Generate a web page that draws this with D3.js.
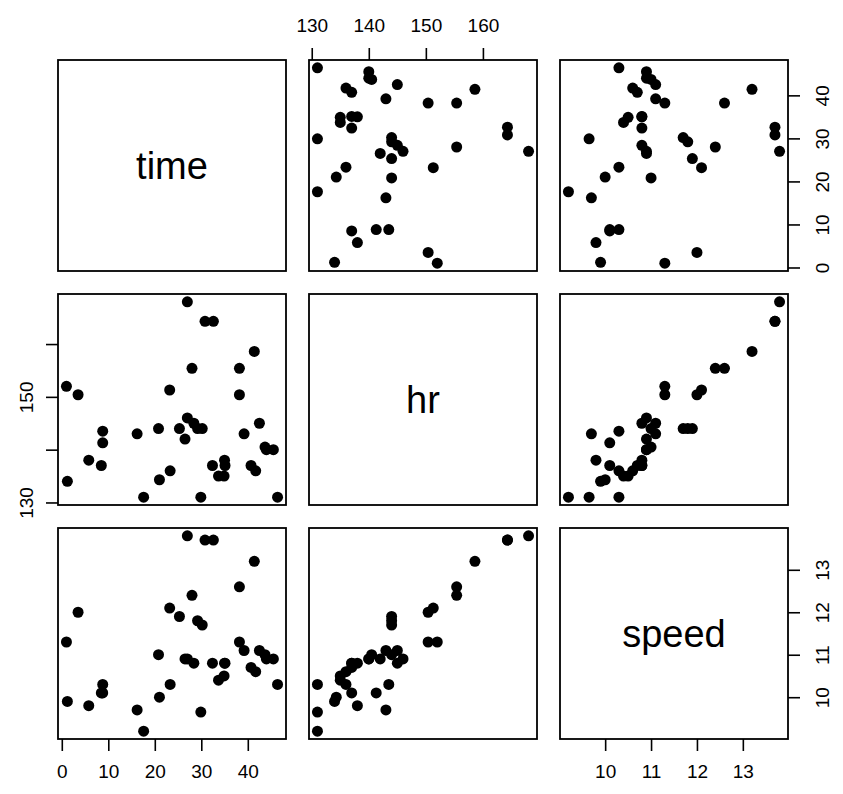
<!DOCTYPE html>
<html>
<head>
<meta charset="utf-8">
<script src="https://cdn.jsdelivr.net/npm/d3@7"></script>
<style>
  body { margin: 0; background: #fff; }
  text { font-family: "Liberation Sans", Arial, sans-serif; fill: #000; }
</style>
</head>
<body>
<svg id="svg-chart"></svg>
<script>
// variables of the scatterplot matrix
const varNames = ["time", "hr", "speed"];

const time = [46.4, 29.9, 17.6, 1.2, 21.0, 34.9, 33.7, 41.7, 23.3, 40.7,
  35.1, 32.4, 35.0, 8.5, 5.8, 44.0, 45.5, 43.7, 8.8, 26.5,
  39.2, 16.2, 8.8, 30.2, 25.3, 20.8, 29.2, 28.4, 42.5, 27.0,
  38.2, 3.5, 23.2, 1.0, 38.2, 28.0, 41.4, 32.6, 30.8, 27.0];
const hr = [131, 131, 131, 134, 134.3, 135, 135, 136, 136, 137,
  137, 137, 138, 137, 138, 140, 140, 140.5, 141.3, 142,
  143, 143, 143.5, 144, 144, 144, 144, 145, 145, 146,
  150.4, 150.4, 151.3, 152, 155.4, 155.4, 158.6, 164.3, 164.3, 168];
const speed = [10.3, 9.65, 9.2, 9.9, 10.0, 10.5, 10.4, 10.6, 10.3, 10.7,
  10.8, 10.8, 10.8, 10.1, 9.8, 10.9, 10.9, 11.0, 10.1, 10.9,
  11.1, 9.7, 10.3, 11.7, 11.9, 11.0, 11.8, 10.8, 11.1, 10.9,
  11.3, 12.0, 12.1, 11.3, 12.6, 12.4, 13.2, 13.7, 13.7, 13.8];

// tick values and which ones carry a label
const timeTicks = [0, 10, 20, 30, 40];
const hrTicks = [130, 140, 150, 160];
const hrLeftLabels = [130, 150];
const speedTicks = [10, 11, 12, 13];

const width = 843;
const height = 794;
const margin = { left: 58, top: 60 };
const panelW = 228;
const panelH = 211;
const gap = 23;

const columns = [time, hr, speed];
const ticks = [timeTicks, hrTicks, speedTicks];
const n = varNames.length;

const svg = d3.select("#svg-chart").attr("width", width).attr("height", height);

// R style range: data extent stretched 4% on each side
function padded(values) {
  const ext = d3.extent(values);
  const p = (ext[1] - ext[0]) * 0.04;
  return [ext[0] - p, ext[1] + p];
}

const xScales = columns.map((v) => d3.scaleLinear().domain(padded(v)).range([0, panelW]));
const yScales = columns.map((v) => d3.scaleLinear().domain(padded(v)).range([panelH, 0]));

const panelX = (j) => margin.left + j * (panelW + gap);
const panelY = (i) => margin.top + i * (panelH + gap);

for (let i = 0; i < n; i++) {
  for (let j = 0; j < n; j++) {
    const g = svg.append("g").attr("transform", "translate(" + panelX(j) + "," + panelY(i) + ")");

    if (i == j) {
      g.append("text")
        .attr("x", panelW / 2)
        .attr("y", panelH / 2)
        .attr("text-anchor", "middle")
        .attr("dominant-baseline", "central")
        .attr("font-size", 38)
        .text(varNames[i]);
    } else {
      const pts = d3.range(time.length).map((k) => [columns[j][k], columns[i][k]]);
      g.selectAll("circle")
        .data(pts)
        .join("circle")
        .attr("cx", (d) => xScales[j](d[0]))
        .attr("cy", (d) => yScales[i](d[1]))
        .attr("r", 5.5)
        .attr("fill", "#000");
    }

    g.append("rect")
      .attr("width", panelW)
      .attr("height", panelH)
      .attr("fill", "none")
      .attr("stroke", "#000")
      .attr("stroke-width", 1.8);
  }
}

// axes: top/bottom alternate by column, left/right alternate by row
function styleAxis(sel) {
  sel.select(".domain").remove();
  sel.selectAll("line").attr("stroke", "#000").attr("stroke-width", 1.6);
  sel.selectAll("text").attr("font-size", 19).attr("font-family", "Liberation Sans, Arial, sans-serif");
}

for (let j = 0; j < n; j++) {
  const top = j % 2 == 1;
  const axis = (top ? d3.axisTop(xScales[j]) : d3.axisBottom(xScales[j]))
    .tickValues(ticks[j])
    .tickFormat(d3.format("d"))
    .tickSize(12)
    .tickPadding(top ? 16 : 14);
  const y = top ? panelY(0) : panelY(n - 1) + panelH;
  svg.append("g")
    .attr("transform", "translate(" + panelX(j) + "," + y + ")")
    .call(axis)
    .call(styleAxis);
}

for (let i = 0; i < n; i++) {
  const left = i % 2 == 1;
  const axis = (left ? d3.axisLeft(yScales[i]) : d3.axisRight(yScales[i]))
    .tickValues(ticks[i])
    .tickFormat(d3.format("d"))
    .tickSize(12);
  if (left && varNames[i] == "hr") {
    axis.tickFormat((d) => (hrLeftLabels.includes(d) ? d : ""));
  }
  const x = left ? panelX(0) : panelX(n - 1) + panelW;
  const ag = svg.append("g")
    .attr("transform", "translate(" + x + "," + panelY(i) + ")")
    .call(axis)
    .call(styleAxis);
  // labels run along the axis, as in R with las = 0
  ag.selectAll(".tick text")
    .attr("x", null)
    .attr("dy", null)
    .attr("text-anchor", "middle")
    .attr("dominant-baseline", "central")
    .attr("transform", "translate(" + (left ? -32 : 34) + ",0) rotate(-90)");
}
</script>
</body>
</html>
